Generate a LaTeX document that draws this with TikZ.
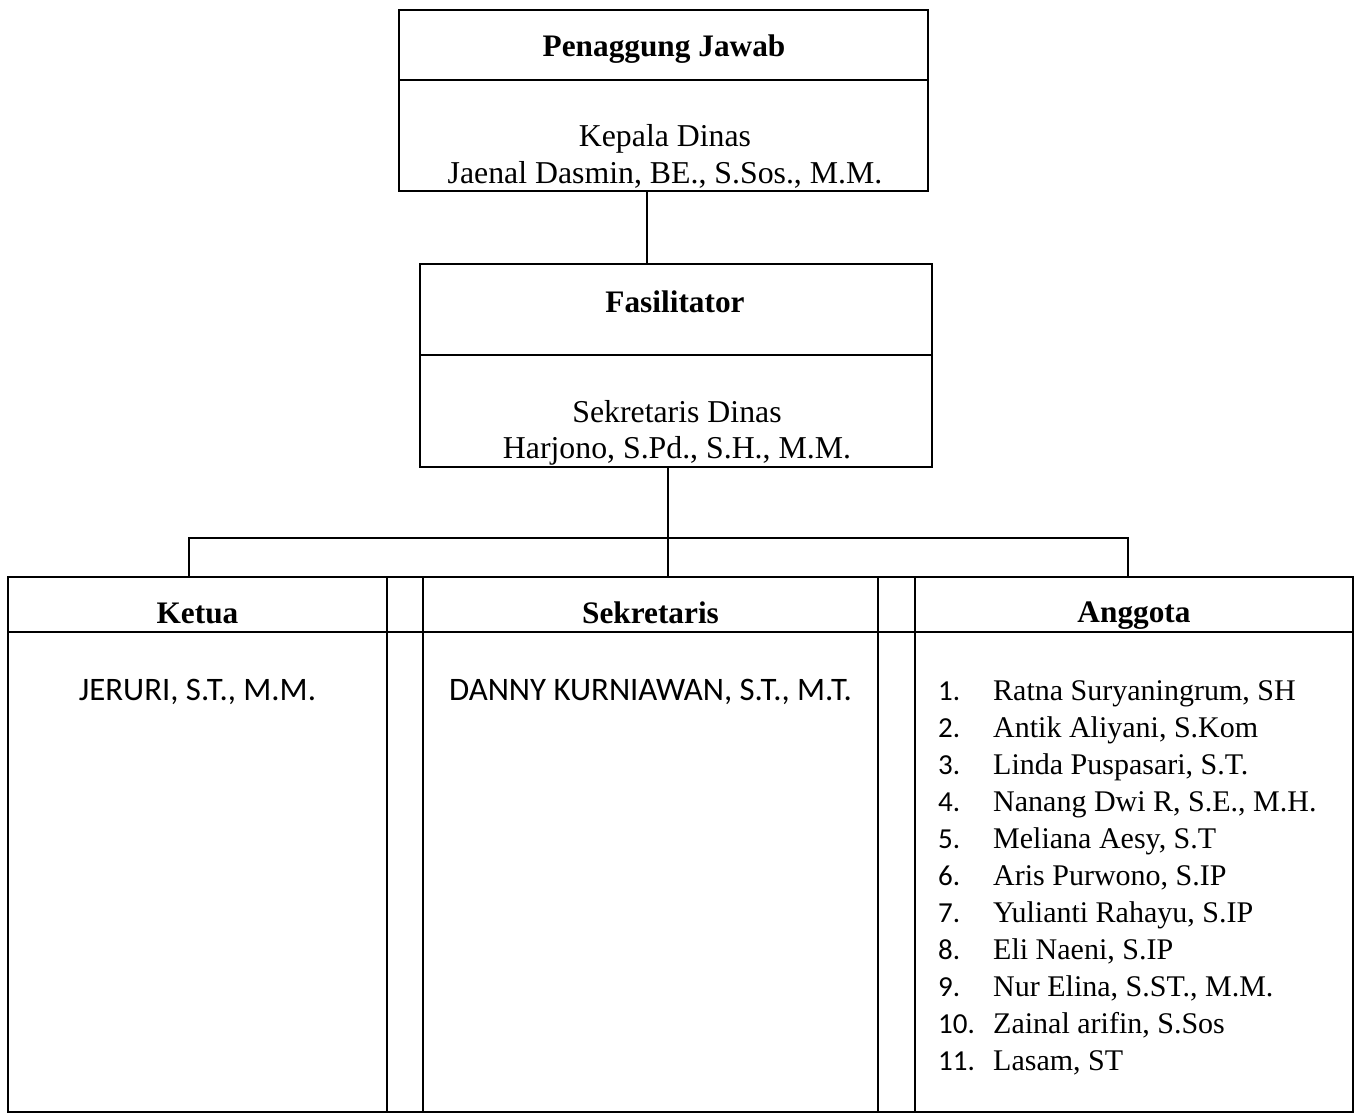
\documentclass[tikz,border=0pt]{standalone}
\usepackage{fontspec}
\setmainfont{Liberation Serif}
\newfontfamily\calibri{Carlito}
\begin{document}
\begin{tikzpicture}[x=1pt,y=-1pt,
  ln/.style={draw=black, line width=1.3pt},
  box/.style={ln, rectangle, inner sep=0pt, outer sep=0pt},
  ttl/.style={inner sep=0pt, anchor=base, font=\fontsize{31.3}{35}\selectfont\bfseries},
  txt/.style={inner sep=0pt, anchor=base, font=\fontsize{31.8}{35}\selectfont},
  sans/.style={inner sep=0pt, anchor=base, font=\calibri\fontsize{32.8}{35}\selectfont},
  num/.style={inner sep=0pt, anchor=base west, font=\calibri\fontsize{29}{35}\selectfont},
  item/.style={inner sep=0pt, anchor=base west, font=\fontsize{30}{35}\selectfont}]
\useasboundingbox (0,0) rectangle (1359,1118);

% top box
\node[box, minimum width=529, minimum height=181] (pj) at (663.5,100.5) {};
\coordinate (pjdiv) at (0,80);
\draw[ln] (pj.west |- pjdiv) -- (pj.east |- pjdiv);
\node[ttl] (pjt) at (664,57) {Penaggung Jawab};
\node[txt] (pj1) at (665,147) {Kepala Dinas};
\node[txt] (pj2) at (665,183) {Jaenal Dasmin, BE., S.Sos., M.M.};

% fasilitator box
\node[box, minimum width=512, minimum height=203] (fas) at (676,365.5) {};
\coordinate (fasdiv) at (0,355);
\draw[ln] (fas.west |- fasdiv) -- (fas.east |- fasdiv);
\node[ttl] (fast) at (675,312) {Fasilitator};
\node[txt] (fas1) at (677,422) {Sekretaris Dinas};
\node[txt] (fas2) at (677,458) {Harjono, S.Pd., S.H., M.M.};

% bottom table
\node[box, minimum width=379, minimum height=535] (ketua) at (197.5,844.5) {};
\node[box, minimum width=36, minimum height=535] (gap1) at (405,844.5) {};
\node[box, minimum width=455, minimum height=535] (sekr) at (650.5,844.5) {};
\node[box, minimum width=37, minimum height=535] (gap2) at (896.5,844.5) {};
\node[box, minimum width=438, minimum height=535] (angg) at (1134,844.5) {};
\coordinate (tbldiv) at (0,632);
\draw[ln] (ketua.west |- tbldiv) -- (angg.east |- tbldiv);

\node[ttl] (ketuat) at (197.5,623) {Ketua};
\node[ttl] (sekrt) at (650.5,623) {Sekretaris};
\node[ttl] (anggt) at (1134,622) {Anggota};

\node[sans] (ketua1) at (197.5,700) {JERURI, S.T., M.M.};
\node[sans] (sekr1) at (650.5,700) {DANNY KURNIAWAN, S.T., M.T.};

\foreach \i/\n [count=\k from 0] in {1/{Ratna Suryaningrum, SH}, 2/{Antik Aliyani, S.Kom}, 3/{Linda Puspasari, S.T.}, 4/{Nanang Dwi R, S.E., M.H.}, 5/{Meliana Aesy, S.T}, 6/{Aris Purwono, S.IP}, 7/{Yulianti Rahayu, S.IP}, 8/{Eli Naeni, S.IP}, 9/{Nur Elina, S.ST., M.M.}, 10/{Zainal arifin, S.Sos}, 11/{Lasam, ST}} {
  \node[num] (n\i) at (938,{700+37*\k}) {\i.};
  \node[item] (m\i) at (993,{700+37*\k}) {\n};
}

% connectors
\coordinate (c1) at (647,0);
\coordinate (c2) at (668,0);
\coordinate (barL) at (189,538);
\coordinate (barR) at (1128,538);
\draw[ln] (pj.south -| c1) -- (fas.north -| c1);
\draw[ln] (fas.south -| c2) -- (sekr.north -| c2);
\draw[ln] (ketua.north -| barL) -- (barL) -- (barR) -- (angg.north -| barR);
\end{tikzpicture}
\end{document}
